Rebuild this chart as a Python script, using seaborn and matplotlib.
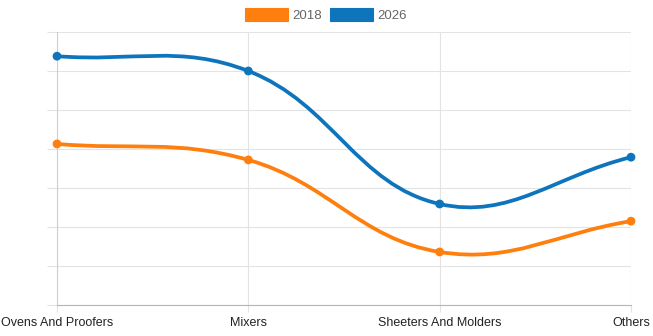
import numpy as np
import pandas as pd
import matplotlib
matplotlib.use("Agg")
import matplotlib.pyplot as plt
from matplotlib.path import Path
from matplotlib.patches import PathPatch, Patch
import seaborn as sns

categories = ["Ovens And Proofers", "Mixers", "Sheeters And Molders", "Others"]
values_2018 = [4.13, 3.72, 1.36, 2.15]
values_2026 = [6.38, 6.00, 2.59, 3.79]
series_names = ["2018", "2026"]
colors = ["#ff7f0e", "#0e75bc"]

sns.set_theme(style="white")
plt.rcParams['font.family'] = ['Liberation Sans', 'DejaVu Sans']

W, H = 653, 336
fig = plt.figure(figsize=(W / 100, H / 100), dpi=100)
x0, x1, y0, y1 = 57, 631, 32, 305
ax = fig.add_axes([x0 / W, 1 - y1 / H, (x1 - x0) / W, (y1 - y0) / H])
ymax = 7
ax.set_xlim(0, len(categories) - 1)
ax.set_ylim(0, ymax)

sx = (x1 - x0) / (len(categories) - 1)
sy = (y1 - y0) / ymax


def spline_path(xs, ys, t=0.4):
    P = np.column_stack([np.asarray(xs, float) * sx, np.asarray(ys, float) * sy])
    n = len(P)
    cin, cout = [None] * n, [None] * n
    for i in range(n):
        prev = P[i - 1] if i > 0 else P[i]
        nxt = P[i + 1] if i < n - 1 else P[i]
        d01 = np.hypot(*(P[i] - prev))
        d12 = np.hypot(*(nxt - P[i]))
        tot = d01 + d12
        s01 = d01 / tot if tot else 0
        s12 = d12 / tot if tot else 0
        cin[i] = P[i] - t * s01 * (nxt - prev)
        cout[i] = P[i] + t * s12 * (nxt - prev)
    verts = [P[0]]
    codes = [Path.MOVETO]
    for i in range(n - 1):
        verts += [cout[i], cin[i + 1], P[i + 1]]
        codes += [Path.CURVE4] * 3
    verts = np.array(verts) / np.array([sx, sy])
    return Path(verts, codes)


xs = np.arange(len(categories))
df = pd.DataFrame({
    "x": np.concatenate([xs, xs]),
    "value": values_2018 + values_2026,
    "series": [series_names[0]] * len(xs) + [series_names[1]] * len(xs),
})

for name, vals, c in zip(series_names, [values_2018, values_2026], colors):
    ax.add_patch(PathPatch(spline_path(xs, vals), facecolor="none", edgecolor=c,
                           lw=2.7, capstyle="round", joinstyle="round", zorder=3,
                           clip_on=False))

sns.scatterplot(data=df, x="x", y="value", hue="series", palette=colors,
                s=40, edgecolor="none", legend=False, ax=ax, zorder=4)
for coll in ax.collections:
    coll.set_clip_on(False)

ax.set_xlabel("")
ax.set_ylabel("")
ax.set_xticks(xs)
ax.set_xticklabels(categories, fontsize=9, color="#222222")
ax.set_yticks(np.arange(0, ymax + 1))
ax.set_yticklabels([])
ax.grid(True, color="#e3e3e3", lw=0.8)
ax.set_axisbelow(True)
ax.tick_params(axis="y", left=True, length=7.2, width=0.8, color="#e3e3e3", pad=0)
ax.tick_params(axis="x", bottom=True, length=5, width=0.8, color="#e3e3e3", pad=4)
for s in ["top", "right"]:
    ax.spines[s].set_visible(False)
ax.spines["left"].set_color("#cfcfcf")
ax.spines["left"].set_linewidth(0.8)
ax.spines["bottom"].set_color("#b5b5b5")
ax.spines["bottom"].set_linewidth(0.8)

handles = [Patch(facecolor=c, edgecolor=c, alpha=1.0, lw=0.8) for c in colors]
fig.legend(handles, series_names, loc="center", bbox_to_anchor=(0.499, 1 - 15 / H),
           ncol=2, frameon=False, fontsize=9.5, labelcolor="#666666",
           handlelength=3.25, handleheight=1.15, handletextpad=0.35, columnspacing=0.6)

fig.savefig("out.png", dpi=100)
